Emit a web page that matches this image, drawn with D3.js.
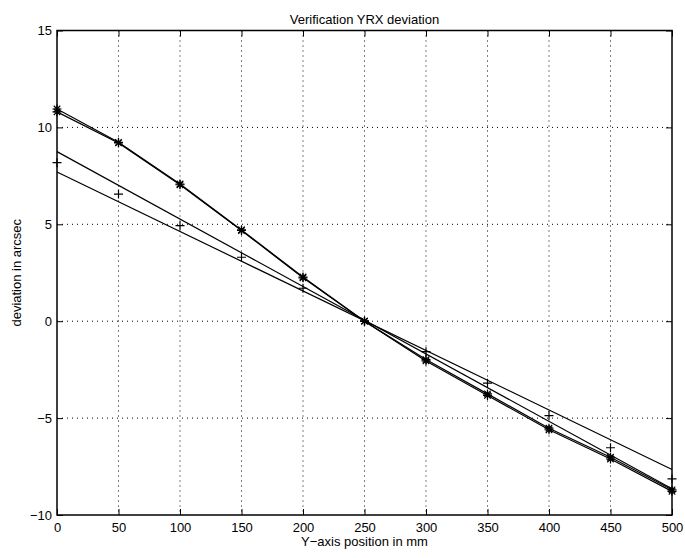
<!DOCTYPE html>
<html>
<head>
<meta charset="utf-8">
<script src="https://cdn.jsdelivr.net/npm/d3@7"></script>
<style>
  html, body { margin: 0; padding: 0; background: #fff; overflow: hidden; }
  svg { display: block; }
  text { font-family: "Liberation Sans", Arial, Helvetica, sans-serif; font-size: 13px; fill: #000; }
  .axis path { display: none; }
  .axis line { stroke: #000; stroke-width: 1; }
  .grid line { stroke: #000; stroke-width: 1; stroke-dasharray: 1,4; }
</style>
</head>
<body>
<div id="chart"></div>
<script>
// Daten
const positions = [0, 50, 100, 150, 200, 250, 300, 350, 400, 450, 500];
const measuredA = [10.95, 9.23, 7.08, 4.71, 2.28, 0, -2.05, -3.83, -5.6, -7.11, -8.78];
const measuredB = [10.8, 9.2, 7.04, 4.68, 2.24, 0, -1.98, -3.75, -5.52, -7.02, -8.7];
const plusValues = [8.18, 6.56, 4.93, 3.3, 1.7, 0, -1.57, -3.2, -4.87, -6.53, -8.14];
const lineEnds = [0, 500];
const lineA = [8.75, -8.65];
const lineB = [7.7, -7.65];
const xTicks = [0, 50, 100, 150, 200, 250, 300, 350, 400, 450, 500];
const yTicks = [-10, -5, 0, 5, 10, 15];

const width = 685, height = 558;
const margin = { top: 30.5, right: 13, bottom: 43, left: 57 };
const innerWidth = width - margin.left - margin.right;
const innerHeight = height - margin.top - margin.bottom;

const root = d3.select("#chart").append("svg")
  .attr("width", width)
  .attr("height", height);

root.append("rect").attr("width", width).attr("height", height).attr("fill", "#fff");

const svg = root.append("g")
  .attr("transform", `translate(${margin.left},${margin.top})`);

const x = d3.scaleLinear().domain([0, 500]).range([0, innerWidth]);
const y = d3.scaleLinear().domain([-10, 15]).range([innerHeight, 0]);

// Gitterlinien (gepunktet)
svg.append("g").attr("class", "grid")
  .selectAll("line")
  .data(xTicks.filter(d => d > 0 && d < 500))
  .join("line")
    .attr("x1", d => x(d)).attr("x2", d => x(d))
    .attr("y1", 0).attr("y2", innerHeight);

svg.append("g").attr("class", "grid")
  .selectAll("line")
  .data(yTicks.filter(d => d > -10 && d < 15))
  .join("line")
    .attr("x1", 0).attr("x2", innerWidth)
    .attr("y1", d => y(d)).attr("y2", d => y(d));

// Achsen, Ticks nach innen
svg.append("g").attr("class", "axis")
  .attr("transform", `translate(0,${innerHeight})`)
  .call(d3.axisBottom(x).tickValues(xTicks).tickSize(-6).tickPadding(8));

svg.append("g").attr("class", "axis")
  .call(d3.axisLeft(y).tickValues(yTicks).tickSize(-6).tickPadding(5));

// oben und rechts nur Ticks, ohne Text
svg.append("g").attr("class", "axis")
  .call(d3.axisTop(x).tickValues(xTicks).tickSize(-6))
  .call(g => g.selectAll("text").remove());

svg.append("g").attr("class", "axis")
  .attr("transform", `translate(${innerWidth},0)`)
  .call(d3.axisRight(y).tickValues(yTicks).tickSize(-6))
  .call(g => g.selectAll("text").remove());

// Linien
const line = d3.line().x(d => x(d[0])).y(d => y(d[1]));

const curves = [
  d3.zip(positions, measuredB),
  d3.zip(positions, measuredA),
  d3.zip(lineEnds, lineA),
  d3.zip(lineEnds, lineB)
];

svg.selectAll(".curve")
  .data(curves)
  .join("path")
    .attr("class", "curve")
    .attr("d", line)
    .attr("fill", "none")
    .attr("stroke", "#000")
    .attr("stroke-width", 1.2);

// Marker: Sterne (* = + und x)
const starPath = r => {
  const p = d3.path();
  const q = r * 0.72;
  p.moveTo(-r, 0); p.lineTo(r, 0);
  p.moveTo(0, -r); p.lineTo(0, r);
  p.moveTo(-q, -q); p.lineTo(q, q);
  p.moveTo(-q, q); p.lineTo(q, -q);
  return p.toString();
};
const plusPath = r => `M${-r},0H${r}M0,${-r}V${r}`;

const starData = d3.zip(positions, measuredA).concat(d3.zip(positions, measuredB));
svg.selectAll(".star")
  .data(starData)
  .join("path")
    .attr("class", "star")
    .attr("transform", d => `translate(${x(d[0])},${y(d[1])})`)
    .attr("d", starPath(4.5))
    .attr("fill", "none")
    .attr("stroke", "#000")
    .attr("stroke-width", 1.2);

svg.selectAll(".plus")
  .data(d3.zip(positions, plusValues))
  .join("path")
    .attr("class", "plus")
    .attr("transform", d => `translate(${x(d[0])},${y(d[1])})`)
    .attr("d", plusPath(4.5))
    .attr("fill", "none")
    .attr("stroke", "#000")
    .attr("stroke-width", 1.2);

// Rahmen
svg.append("rect")
  .attr("width", innerWidth).attr("height", innerHeight)
  .attr("fill", "none").attr("stroke", "#000").attr("stroke-width", 1.5);

// Beschriftungen
root.append("text")
  .attr("x", margin.left + innerWidth / 2).attr("y", 24)
  .attr("text-anchor", "middle")
  .text("Verification YRX deviation");

root.append("text")
  .attr("x", margin.left + innerWidth / 2).attr("y", 546)
  .attr("text-anchor", "middle")
  .text("Y\u2212axis position in mm");

root.append("text")
  .attr("transform", `translate(21,${margin.top + innerHeight / 2}) rotate(-90)`)
  .attr("text-anchor", "middle")
  .text("deviation in arcsec");
</script>
</body>
</html>
